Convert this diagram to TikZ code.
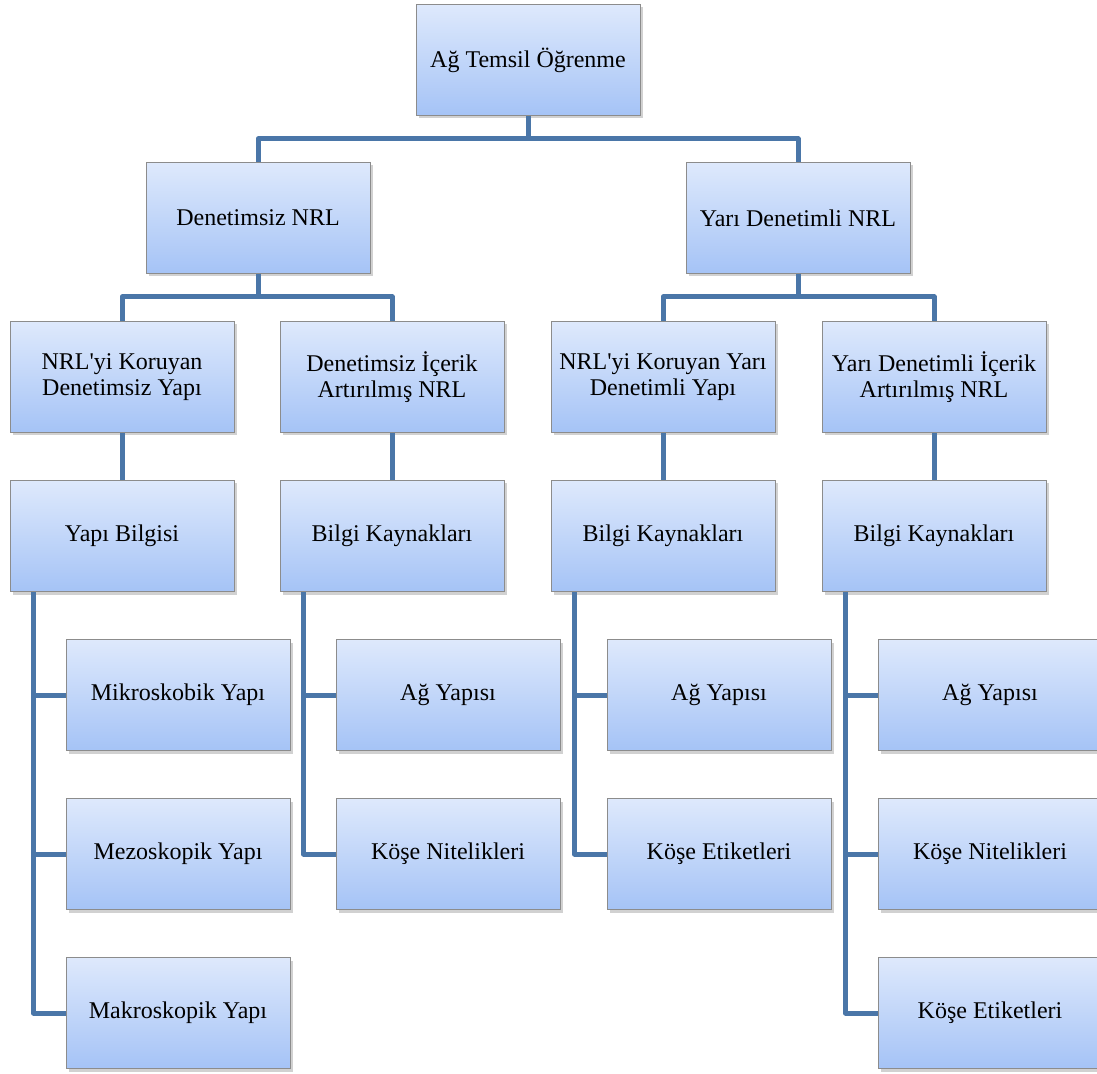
\documentclass[tikz,border=0pt]{standalone}
\usepackage{fontspec}
\setmainfont{Liberation Serif}
\usetikzlibrary{positioning, shadows}
\definecolor{linkblue}{HTML}{4A76A8}
\definecolor{boxtop}{HTML}{DEE9FC}
\definecolor{boxbot}{HTML}{A5C3F6}
\definecolor{boxedge}{HTML}{8C8C8C}
\newcommand{\apo}{\textquotesingle}

\begin{document}
\begin{tikzpicture}[x=0.5pt, y=-0.5pt, font=\rmfamily\fontsize{12}{13}\selectfont,
  box/.style={rectangle, draw=boxedge, line width=0.5pt, top color=boxtop, bottom color=boxbot,
    minimum width=112pt, minimum height=55.5pt, inner sep=2pt, align=center,
    drop shadow={shadow xshift=1.5pt, shadow yshift=-1.5pt, opacity=0.3, fill=black!60}},
  link/.style={draw=linkblue, line width=2.5pt, line join=round}
]
  \useasboundingbox (0,0) rectangle (1097,1074);

  % upper levels
  \node[box] (root) at (528,60) {Ağ Temsil Öğrenme};
  \node[box] (uns) at (258,218) {Denetimsiz NRL};
  \node[box] (semi) at (798,218) {Yarı Denetimli NRL};

  \node[box] (unsA) at (122,377) {NRL\apo yi Koruyan\\Denetimsiz Yapı};
  \node[box] (unsB) at (392,377) {Denetimsiz İçerik\\Artırılmış NRL};
  \node[box] (semiA) at (663,377) {NRL\apo yi Koruyan Yarı\\Denetimli Yapı};
  \node[box] (semiB) at (934,377) {Yarı Denetimli İçerik\\Artırılmış NRL};

  \node[box] (yb) at (122,536) {Yapı Bilgisi};
  \node[box] (bk1) at (392,536) {Bilgi Kaynakları};
  \node[box] (bk2) at (663,536) {Bilgi Kaynakları};
  \node[box] (bk3) at (934,536) {Bilgi Kaynakları};

  % leaves
  \foreach \n/\x/\y/\t in {mikro/178/695/Mikroskobik Yapı, mezo/178/854/Mezoskopik Yapı,
      makro/178/1013/Makroskopik Yapı, agA/448/695/Ağ Yapısı, nitA/448/854/Köşe Nitelikleri,
      agB/719/695/Ağ Yapısı, etB/719/854/Köşe Etiketleri, agC/990/695/Ağ Yapısı,
      nitC/990/854/Köşe Nitelikleri, etC/990/1013/Köşe Etiketleri} {
    \node[box] (\n) at (\x,\y) {\t};
  }

  % connectors
  \draw[link] (root.south) -- ++(0,23) -| (uns.north);
  \draw[link] (root.south) -- ++(0,23) -| (semi.north);
  \draw[link] (uns.south) -- ++(0,23) -| (unsA.north);
  \draw[link] (uns.south) -- ++(0,23) -| (unsB.north);
  \draw[link] (semi.south) -- ++(0,23) -| (semiA.north);
  \draw[link] (semi.south) -- ++(0,23) -| (semiB.north);
  \foreach \a/\b in {unsA/yb, unsB/bk1, semiA/bk2, semiB/bk3}
    \draw[link] (\a.south) -- (\b.north);
  \foreach \p/\c in {yb/mikro, yb/mezo, yb/makro, bk1/agA, bk1/nitA, bk2/agB, bk2/etB,
      bk3/agC, bk3/nitC, bk3/etC}
    \draw[link] ([xshift=12pt]\p.south west) |- (\c.west);
\end{tikzpicture}
\end{document}
